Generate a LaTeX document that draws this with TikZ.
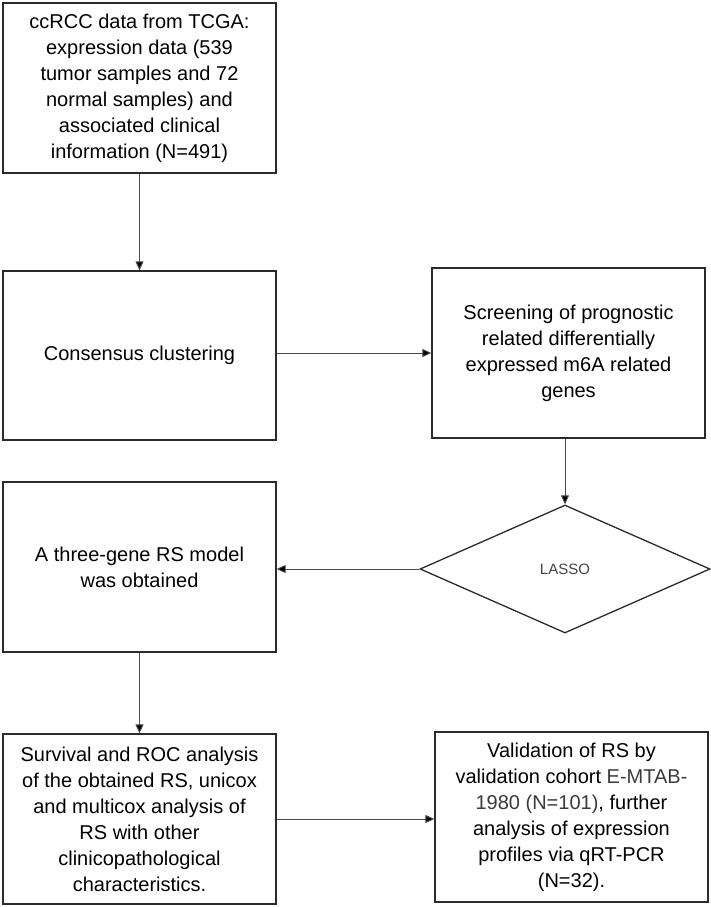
\documentclass[tikz,border=0pt]{standalone}
\usepackage{fontspec}
\setmainfont{Liberation Sans}
\usetikzlibrary{shapes.geometric,arrows.meta}
\definecolor{boxline}{HTML}{2B2B2B}
\definecolor{conn}{HTML}{4A4A4A}
\definecolor{soft}{HTML}{444444}
\definecolor{cite}{HTML}{3A3A3A}
\begin{document}
\begin{tikzpicture}[x=1pt,y=-1pt,
  box/.style={draw=boxline,line width=1.3pt,rectangle,minimum width=273pt,minimum height=170pt,
    inner sep=0pt,align=center,font=\fontsize{20}{26}\selectfont},
  decision/.style={draw=boxline,line width=1.3pt,diamond,minimum width=290pt,minimum height=128pt,
    inner sep=0pt,font=\fontsize{15}{18}\selectfont,text=soft},
  arr/.style={draw=conn,line width=0.9pt,-{Triangle[length=9pt,width=8pt,fill=black]}}]
\useasboundingbox (0,0) rectangle (711,907);
\node[box] (b1) at (139.5,88) {ccRCC data from TCGA:\\expression data (539\\tumor samples and 72\\normal samples) and\\associated clinical\\information (N=491)};
\node[box,minimum height=169pt] (b2) at (139.5,355.5) {Consensus clustering};
\node[box] (b3) at (568.5,353) {Screening of prognostic\\related differentially\\expressed m6A related\\genes};
\node[decision] (d) at (565,569) {LASSO};
\node[box] (b4) at (139.5,567) {A three-gene RS model\\was obtained};
\node[box] (b5) at (139.5,819) {Survival and ROC analysis\\of the obtained RS, unicox\\and multicox analysis of\\RS with other\\clinicopathological\\characteristics.};
\node[box] (b6) at (571.5,817) {Validation of RS by\\validation cohort \textcolor{cite}{E-MTAB-}\\\textcolor{cite}{1980 (N=101)}, further\\analysis of expression\\profiles via qRT-PCR\\(N=32).};
\draw[arr] (b1.south) -- (b2.north);
\draw[arr] (b3.west -| b2.east) -- (b3.west);
\draw[arr] (b3.south -| d.north) -- (d.north);
\draw[arr] (d.west) -- (d.west -| b4.east);
\draw[arr] (b4.south) -- (b5.north);
\draw[arr] (b5.east) -- (b5.east -| b6.west);
\end{tikzpicture}
\end{document}
